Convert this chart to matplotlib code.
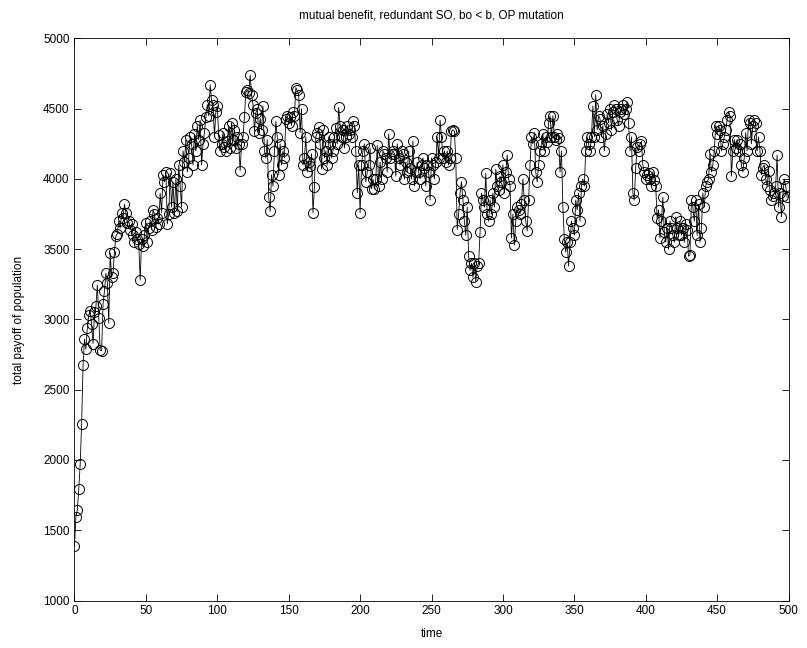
import matplotlib
matplotlib.use("Agg")
import matplotlib.pyplot as plt
import numpy as np

payoff = [
    1390,1597,1645,1794,1972,2256,2678,2860,2789,2943,
    3033,3062,2967,2829,3050,3093,3246,3010,2782,2777,
    3109,3204,3329,3263,2974,3472,3303,3334,3483,3595,
    3610,3700,3650,3760,3720,3820,3760,3690,3700,3640,
    3680,3600,3550,3620,3570,3540,3280,3570,3520,3600,
    3690,3550,3650,3700,3640,3780,3750,3660,3720,3680,
    3900,3760,4030,3980,4050,3680,3750,4040,3800,3980,
    3760,4000,3770,4100,3950,3800,4200,4120,4280,4050,
    4150,4300,4250,4100,4320,4200,4380,4280,4420,4100,
    4250,4330,4440,4530,4450,4670,4560,4530,4300,4480,
    4520,4310,4200,4250,4330,4230,4200,4270,4380,4220,
    4400,4280,4350,4220,4300,4250,4060,4250,4300,4440,
    4620,4630,4610,4740,4600,4530,4340,4470,4500,4330,
    4430,4350,4520,4200,4150,4280,3870,3770,4030,3950,
    4200,4410,4300,4030,4250,4100,4200,4150,4430,4450,
    4400,4440,4380,4480,4450,4650,4630,4600,4330,4500,
    4100,4150,4300,4050,4120,4090,4180,3760,3940,4300,
    4330,4370,4250,4070,4350,4150,4200,4100,4300,4250,
    4150,4200,4300,4360,4250,4510,4380,4300,4350,4220,
    4300,4380,4320,4350,4300,4410,4380,4200,3900,4100,
    3760,4100,4200,4250,3980,4050,4100,4220,3930,4000,
    3930,4000,4240,3950,4120,4000,4200,4180,4150,4050,
    4320,4150,4180,4200,4180,4020,4250,4150,4100,4200,
    4180,4000,4120,4050,4200,4080,4000,4270,3950,4050,
    4120,4050,4000,4100,4150,4080,3950,4100,4050,3850,
    4150,4100,4000,4120,4300,4150,4420,4300,4150,4200,
    4120,4200,4100,4150,4340,4350,4340,4150,3640,3750,
    3900,3980,3850,3700,3600,3800,3450,3350,3400,3300,
    3400,3270,3380,3400,3620,3900,3850,3800,4040,3750,
    3700,3850,3750,3900,3800,4070,3950,3920,4020,3980,
    4100,3900,4050,4170,4000,3950,3580,3750,3530,3700,
    3800,3780,3750,3820,4000,3850,3700,3630,3850,4100,
    4300,4250,4330,4050,3980,4100,4200,4250,4320,4200,
    4300,4260,4400,4450,4300,4450,4300,4280,4320,4290,
    4050,4200,3800,3570,3480,3550,3380,3550,3700,3650,
    3600,3850,3780,3900,3700,3950,4000,3950,4200,4300,
    4250,4200,4300,4520,4300,4600,4350,4450,4430,4300,
    4380,4200,4320,4460,4400,4500,4350,4480,4530,4500,
    4420,4380,4480,4500,4530,4460,4500,4550,4400,4200,
    4300,3900,3850,4080,4230,4200,4250,4270,4100,4050,
    4000,4030,4040,4000,3950,4050,3990,3950,3720,3780,
    3580,3700,3870,3620,3550,3650,3500,3700,3650,3600,
    3550,3730,3650,3600,3700,3600,3650,3550,3680,3640,
    3450,3460,3850,3800,3700,3850,3600,3820,3550,3650,
    3900,3800,3950,3980,4000,4180,4050,4100,4200,4380,
    4320,4380,4350,4200,4250,4300,4350,4420,4480,4450,
    4020,4200,4280,4220,4280,4200,4250,4100,4050,4150,
    4330,4200,4420,4400,4250,4380,4420,4400,4200,4300,
    4200,4030,4080,4100,4000,3950,4060,3920,3850,3880,
    3900,3950,4170,3800,3900,3730,3880,4000,3950,3870,
]
time = np.arange(len(payoff))

x_ticks = [0, 50, 100, 150, 200, 250, 300, 350, 400, 450, 500]
y_ticks = [1000, 1500, 2000, 2500, 3000, 3500, 4000, 4500, 5000]

plt.rcParams['font.family'] = ['Liberation Sans', 'DejaVu Sans']

fig = plt.figure(figsize=(8.07, 6.48), dpi=100)
ax = fig.add_axes([0.0923, 0.0733, 0.8848, 0.8673])
ax.plot(time, payoff, color='black', linewidth=0.6, marker='o',
        markersize=7.2, markerfacecolor='none', markeredgecolor='black',
        markeredgewidth=0.7)
ax.set_xlim(0, 500)
ax.set_ylim(1000, 5000)
ax.set_xticks(x_ticks)
ax.set_yticks(y_ticks)
ax.tick_params(direction='in', top=True, right=True, labelsize=8.5,
               length=5, width=0.6)
for s in ax.spines.values():
    s.set_linewidth(0.6)
ax.set_title('mutual benefit, redundant SO, bo < b, OP mutation', fontsize=8.5, pad=14.5)
ax.set_xlabel('time', fontsize=8.5, labelpad=8)
ax.set_ylabel('total payoff of population', fontsize=8.5, labelpad=13)

fig.savefig('out.png', dpi=100, facecolor='white')
